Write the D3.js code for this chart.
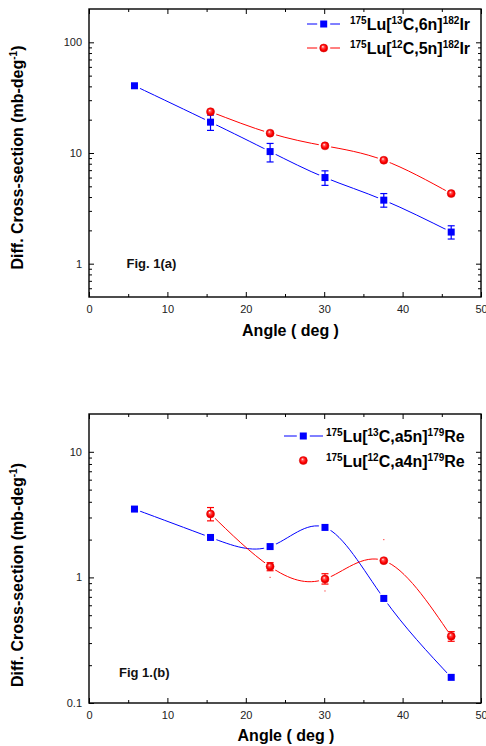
<!DOCTYPE html>
<html>
<head>
<meta charset="utf-8">
<script src="https://cdnjs.cloudflare.com/ajax/libs/d3/7.8.5/d3.min.js"></script>
<style>
  body { margin: 0; background: #fff; }
  svg { display: block; font-family: "Liberation Sans", Arial, sans-serif; }
</style>
</head>
<body>
<svg id="chart" width="486" height="746"></svg>
<script>
// angles (deg)
let anglesAll = [5.8, 15.5, 23.1, 30.1, 37.6, 46.2];
let anglesRed = [15.5, 23.1, 30.1, 37.6, 46.2];

// Fig 1(a) : 182Ir
let irBlue = [40.5, 19.0, 10.3, 6.0, 3.75, 1.93];
let irBlueLo = [null, 16.0, 8.3, 5.1, 3.24, 1.67];
let irBlueHi = [null, 22.0, 12.2, 6.9, 4.3, 2.2];
let irRed = [23.6, 15.1, 11.6, 8.6, 4.3];

// Fig 1(b) : 179Re
let reBlue = [3.5, 2.08, 1.76, 2.5, 0.68, 0.16];
let reRed = [3.2, 1.22, 0.97, 1.36, 0.34];
let reRedLo = [2.82, 1.13, 0.885, null, 0.31];
let reRedHi = [3.6, 1.31, 1.07, null, 0.37];
let reRedSpecks = [[23.1, 1.0], [30.1, 0.78], [37.6, 2.0]]; // stray dots in the original

// ticks
let xTicks = [0, 10, 20, 30, 40, 50];
let xMinor = [5, 15, 25, 35, 45];
let yTicksA = [1, 10, 100];
let yTicksB = [0.1, 1, 10];

// legend labels: [text, isSuperscript]
let legIrBlue = [['175',1],['Lu[',0],['13',1],['C,6n]',0],['182',1],['Ir',0]];
let legIrRed  = [['175',1],['Lu[',0],['12',1],['C,5n]',0],['182',1],['Ir',0]];
let legReBlue = [['175',1],['Lu[',0],['13',1],['C,a5n]',0],['179',1],['Re',0]];
let legReRed  = [['175',1],['Lu[',0],['12',1],['C,a4n]',0],['179',1],['Re',0]];

let svg = d3.select('#chart');
svg.append('rect').attr('width', 486).attr('height', 746).attr('fill', '#fff');

let defs = svg.append('defs');
let grad = defs.append('radialGradient').attr('id', 'ball')
    .attr('cx', '50%').attr('cy', '50%').attr('r', '55%')
    .attr('fx', '38%').attr('fy', '32%');
grad.append('stop').attr('offset', '0%').attr('stop-color', '#ffffff');
grad.append('stop').attr('offset', '28%').attr('stop-color', '#ff5050');
grad.append('stop').attr('offset', '65%').attr('stop-color', '#ff0000');
grad.append('stop').attr('offset', '100%').attr('stop-color', '#cc0000');

let x = d3.scaleLinear().domain([0, 50]).range([89, 481]);

let maskCount = 0;

// draws one symbol
let drawSymbol = function(g, s, cx, cy) {
    if (s.symbol === 'square') {
        g.append('rect').attr('x', cx - 3.5).attr('y', cy - 3.5)
            .attr('width', 7).attr('height', 7).attr('fill', s.color);
    } else {
        g.append('circle').attr('cx', cx).attr('cy', cy).attr('r', 4)
            .attr('fill', 'url(#ball)').attr('stroke', '#e00000').attr('stroke-width', 0.5);
    }
};

let superText = function(text, parts) {
    let up = false;
    parts.forEach(function(p) {
        let t = text.append('tspan').text(p[0]);
        if (p[1] && !up) { t.attr('font-size', 10).attr('dy', -6); up = true; }
        else if (!p[1] && up) { t.attr('dy', 6); up = false; }
        else if (p[1]) { t.attr('font-size', 10); }
    });
};

let createPanel = function(args) {
    let y = d3.scaleLog().domain(args.yDomain).range([args.bottom, args.top]);
    let g = svg.append('g');

    // minor y ticks: 2..9 per decade
    let yMinor = [];
    for (let e = -2; e <= 3; e++) {
        for (let k = 2; k <= 9; k++) {
            let v = k * Math.pow(10, e);
            if (v > args.yDomain[0] && v < args.yDomain[1]) yMinor.push(v);
        }
    }

    let clean = function(a) {
        a.select('.domain').remove();
        a.selectAll('line').attr('stroke', '#000').attr('stroke-width', 1);
        a.selectAll('text').attr('font-size', 11).attr('fill', '#222')
            .attr('font-family', '"Liberation Sans", Arial, sans-serif');
    };

    g.append('g').attr('transform', `translate(0,${args.bottom})`)
        .call(d3.axisBottom(x).tickValues(xTicks).tickSize(-5).tickPadding(8).tickFormat(d3.format('d'))).call(clean);
    g.append('g').attr('transform', `translate(0,${args.bottom})`)
        .call(d3.axisBottom(x).tickValues(xMinor).tickSize(-3).tickFormat('')).call(clean);
    g.append('g').attr('transform', `translate(0,${args.top})`)
        .call(d3.axisTop(x).tickValues(xTicks).tickSize(-5).tickFormat('')).call(clean);
    g.append('g').attr('transform', `translate(0,${args.top})`)
        .call(d3.axisTop(x).tickValues(xMinor).tickSize(-3).tickFormat('')).call(clean);

    g.append('g').attr('transform', `translate(89,0)`)
        .call(d3.axisLeft(y).tickValues(args.yTicks).tickSize(-5).tickPadding(7).tickFormat(d3.format('~g'))).call(clean);
    g.append('g').attr('transform', `translate(89,0)`)
        .call(d3.axisLeft(y).tickValues(yMinor).tickSize(-3).tickFormat('')).call(clean);
    g.append('g').attr('transform', `translate(481,0)`)
        .call(d3.axisRight(y).tickValues(args.yTicks).tickSize(-5).tickFormat('')).call(clean);
    g.append('g').attr('transform', `translate(481,0)`)
        .call(d3.axisRight(y).tickValues(yMinor).tickSize(-3).tickFormat('')).call(clean);

    g.append('rect').attr('x', 89).attr('y', args.top)
        .attr('width', 392).attr('height', args.bottom - args.top)
        .attr('fill', 'none').attr('stroke', '#000').attr('stroke-width', 1.4);

    // series
    args.series.forEach(function(s) {
        let pts = s.x.map((d, i) => [x(d), y(s.y[i])]);

        let id = 'gap' + (maskCount++);
        let mask = defs.append('mask').attr('id', id).attr('maskUnits', 'userSpaceOnUse')
            .attr('x', 0).attr('y', 0).attr('width', 486).attr('height', 746);
        mask.append('rect').attr('width', 486).attr('height', 746).attr('fill', '#fff');
        pts.forEach(p => mask.append('circle').attr('cx', p[0]).attr('cy', p[1]).attr('r', 6.3).attr('fill', '#000'));

        g.append('path')
            .attr('d', d3.line().curve(d3.curveNatural)(pts))
            .attr('fill', 'none').attr('stroke', s.color).attr('stroke-width', 1)
            .attr('mask', `url(#${id})`);

        if (s.lo) {
            s.x.forEach(function(d, i) {
                if (s.lo[i] == null) return;
                let cx = x(d), y0 = y(s.lo[i]), y1 = y(s.hi[i]);
                let e = g.append('g').attr('stroke', s.color).attr('stroke-width', 1.2);
                e.append('line').attr('x1', cx).attr('x2', cx).attr('y1', y0).attr('y2', y1);
                e.append('line').attr('x1', cx - 3.5).attr('x2', cx + 3.5).attr('y1', y0).attr('y2', y0);
                e.append('line').attr('x1', cx - 3.5).attr('x2', cx + 3.5).attr('y1', y1).attr('y2', y1);
            });
        }
        if (s.specks) {
            s.specks.forEach(p => g.append('rect').attr('x', x(p[0]) - 0.6).attr('y', y(p[1]) - 0.6)
                .attr('width', 1.2).attr('height', 1.2).attr('fill', s.color).attr('opacity', 0.7));
        }
        pts.forEach(p => drawSymbol(g, s, p[0], p[1]));
    });

    // legend
    args.series.forEach(function(s, i) {
        let ly = args.legend.y[i];
        let mx = args.legend.marker;
        if (s.legendLine) {
            g.append('line').attr('x1', args.legend.line[0]).attr('x2', mx - 6.5)
                .attr('y1', ly).attr('y2', ly).attr('stroke', s.color).attr('stroke-width', 1);
            g.append('line').attr('x1', mx + 6.5).attr('x2', args.legend.line[1])
                .attr('y1', ly).attr('y2', ly).attr('stroke', s.color).attr('stroke-width', 1);
        }
        drawSymbol(g, s, mx, ly);
        let t = g.append('text').attr('x', args.legend.text).attr('y', ly + 6)
            .attr('font-size', 16).attr('font-weight', 'bold').attr('fill', '#000');
        superText(t, s.label);
    });

    // axis titles
    let yl = g.append('text')
        .attr('transform', `translate(23,${args.yLabelY}) rotate(-90)`)
        .attr('text-anchor', 'middle').attr('font-size', 16).attr('font-weight', 'bold');
    superText(yl, [['Diff. Cross-section (mb-deg',0],['-1',1],[')',0]]);

    g.append('text').attr('x', args.xLabelX).attr('y', args.xLabelY)
        .attr('text-anchor', 'middle').attr('font-size', 16).attr('font-weight', 'bold')
        .text('Angle ( deg )');

    g.append('text').attr('x', args.fig.x).attr('y', args.fig.y)
        .attr('font-size', 13).attr('font-weight', 'bold').attr('fill', '#111')
        .text(args.fig.text);
};

createPanel({
    top: 9, bottom: 297,
    yDomain: [0.5, 200], yTicks: yTicksA,
    series: [
        { x: anglesAll, y: irBlue, lo: irBlueLo, hi: irBlueHi, color: '#0000ff', symbol: 'square', legendLine: true, label: legIrBlue },
        { x: anglesRed, y: irRed, color: '#ff0000', symbol: 'circle', legendLine: true, label: legIrRed },
    ],
    legend: { y: [24, 48], line: [307, 340], marker: 323.7, text: 350 },
    yLabelY: 157.5, xLabelX: 290.5, xLabelY: 336,
    fig: { text: 'Fig. 1(a)', x: 126.5, y: 268 },
});

createPanel({
    top: 414, bottom: 703,
    yDomain: [0.1, 20], yTicks: yTicksB,
    series: [
        { x: anglesAll, y: reBlue, color: '#0000ff', symbol: 'square', legendLine: true, label: legReBlue },
        { x: anglesRed, y: reRed, lo: reRedLo, hi: reRedHi, specks: reRedSpecks, color: '#ff0000', symbol: 'circle', legendLine: false, label: legReRed },
    ],
    legend: { y: [436, 460.5], line: [284, 323], marker: 303.3, text: 326 },
    yLabelY: 575, xLabelX: 286, xLabelY: 741,
    fig: { text: 'Fig 1.(b)', x: 119, y: 677 },
});
</script>
</body>
</html>
